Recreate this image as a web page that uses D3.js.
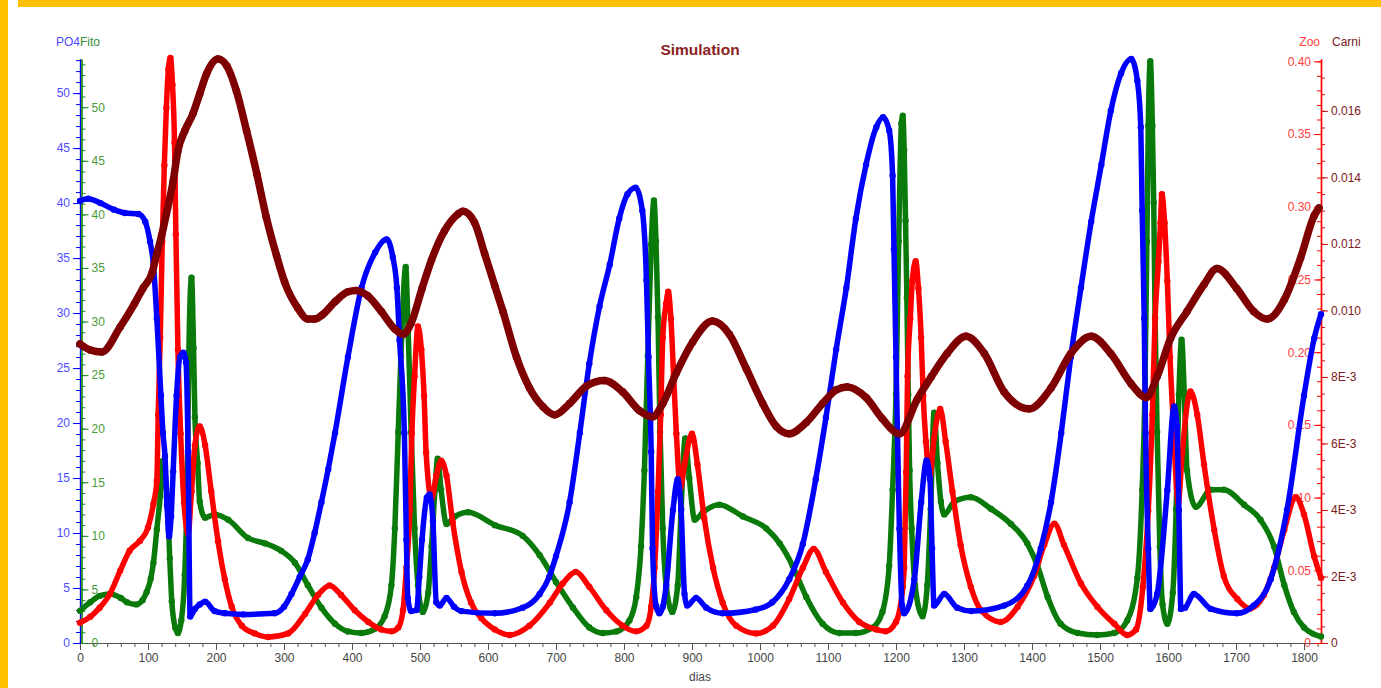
<!DOCTYPE html>
<html><head><meta charset="utf-8">
<script src="https://cdn.jsdelivr.net/npm/d3@7"></script>
<style>
html,body{margin:0;padding:0;background:#fff;overflow:hidden}
svg{display:block}
text{font-family:"Liberation Sans",Arial,sans-serif}
</style></head><body>
<svg id="chart" width="1381" height="688"></svg>
<script>
// ---------- data (day, value) ----------
const po4 = [[0,40.2],[12,40.4],[30,40.0],[50,39.4],[66,39.1],[86,39.0],[96,38.3],[103,36.5],[108,34.4],[113,29.5],[119,22.5],[122,19.1],[125,17.0],[128,12.5],[131,9.7],[134,11.5],[137,15.6],[142,22.5],[147,26.0],[152,26.4],[156,25.5],[159,17.4],[162,2.4],[169,3.1],[176,3.5],[184,3.75],[198,2.9],[213,2.7],[240,2.6],[286,2.7],[300,3.3],[311,4.45],[323,6.0],[335,7.6],[345,10.0],[355,12.8],[365,15.8],[375,19.1],[394,26.0],[414,32.3],[434,35.5],[451,36.7],[460,35.1],[466,32.3],[470,27.5],[477,19.1],[480,9.4],[482,4.1],[487,2.9],[495,3.0],[499,6.0],[503,9.4],[510,13.2],[514,13.5],[519,11.1],[524,3.7],[529,3.4],[539,4.1],[550,3.3],[561,2.9],[610,2.7],[651,3.2],[676,4.45],[690,6.0],[700,7.9],[720,12.8],[735,19.1],[749,25.4],[764,30.6],[779,34.4],[793,38.6],[805,40.8],[817,41.4],[827,39.3],[833,33.0],[836,26.0],[840,17.4],[842,8.6],[847,3.4],[852,2.7],[857,3.3],[862,5.2],[872,12.1],[879,14.9],[884,12.1],[889,4.45],[893,3.4],[906,4.1],[921,3.2],[945,2.7],[994,3.05],[1018,3.7],[1043,5.8],[1063,9.0],[1082,14.9],[1097,20.5],[1112,26.7],[1127,32.3],[1141,38.6],[1156,43.5],[1171,46.9],[1181,47.8],[1190,46.6],[1195,42.5],[1197,35.8],[1200,26.0],[1205,10.4],[1209,3.4],[1212,2.7],[1227,5.8],[1237,12.8],[1245,16.6],[1250,14.9],[1253,8.6],[1256,3.4],[1271,4.45],[1290,3.2],[1311,2.9],[1359,3.4],[1393,5.2],[1413,8.6],[1428,12.8],[1443,19.1],[1457,26.0],[1472,32.3],[1487,38.3],[1502,43.5],[1516,48.4],[1531,51.8],[1546,53.1],[1555,51.1],[1560,46.9],[1562,39.3],[1565,29.5],[1567,19.1],[1571,8.6],[1574,3.1],[1584,4.45],[1599,13.9],[1609,21.5],[1613,19.8],[1616,12.1],[1619,3.1],[1625,3.2],[1638,4.45],[1663,3.1],[1701,2.7],[1726,3.4],[1751,5.8],[1775,12.1],[1800,22.5],[1815,27.7],[1825,29.9]];

const fito = [[0,3.0],[15,3.8],[29,4.4],[44,4.57],[60,4.2],[69,3.8],[83,3.6],[92,4.0],[98,4.75],[104,6.0],[108,7.5],[113,10.6],[118,13.7],[122,17.0],[125,16.0],[129,12.5],[132,7.9],[135,3.9],[140,1.45],[144,0.93],[149,2.1],[154,6.4],[158,16.1],[160,26.8],[164,34.1],[167,27.5],[169,21.1],[173,16.8],[176,13.2],[184,11.7],[198,12.0],[218,11.5],[247,9.8],[272,9.3],[296,8.6],[316,7.5],[335,5.4],[355,3.3],[375,1.8],[394,1.08],[414,0.93],[433,1.3],[448,2.5],[458,5.4],[463,10.7],[468,19.7],[472,26.8],[479,35.1],[482,30.4],[487,19.7],[492,10.7],[497,5.4],[504,2.9],[512,4.7],[517,9.0],[522,14.3],[526,17.2],[531,14.3],[539,11.1],[551,11.8],[571,12.2],[610,11.0],[651,10.0],[676,8.2],[700,5.7],[725,3.3],[749,1.45],[769,0.93],[789,1.08],[808,2.1],[818,4.3],[825,9.0],[830,16.1],[835,26.8],[840,37.2],[844,41.3],[847,37.5],[850,30.4],[853,19.7],[857,10.7],[862,5.4],[871,2.9],[879,5.4],[884,12.5],[890,19.1],[896,15.4],[904,11.5],[916,12.2],[940,12.9],[975,11.8],[1009,10.7],[1029,9.3],[1048,7.2],[1068,4.3],[1092,1.8],[1117,0.93],[1141,0.93],[1166,1.45],[1180,2.9],[1190,7.2],[1195,14.3],[1200,23.2],[1204,37.5],[1208,48.5],[1210,49.2],[1212,46.0],[1214,39.4],[1216,32.2],[1218,23.2],[1220,16.1],[1223,10.7],[1228,5.4],[1239,2.5],[1246,5.4],[1251,12.5],[1256,21.5],[1261,16.8],[1266,13.2],[1271,12.0],[1286,13.2],[1310,13.6],[1340,12.5],[1369,11.1],[1393,9.3],[1408,7.2],[1423,4.3],[1442,1.8],[1467,0.93],[1496,0.75],[1521,0.93],[1540,2.1],[1555,6.1],[1562,14.3],[1566,23.2],[1569,37.5],[1571,48.3],[1574,54.3],[1577,48.3],[1579,41.1],[1581,30.4],[1584,19.7],[1588,9.0],[1592,3.6],[1599,1.8],[1607,4.7],[1612,12.5],[1616,23.2],[1620,28.3],[1624,23.2],[1628,16.1],[1641,12.7],[1663,14.3],[1682,14.3],[1712,12.9],[1736,11.5],[1756,9.0],[1771,5.4],[1785,2.9],[1800,1.45],[1825,0.6]];

const zoo = [[0,0.014],[15,0.018],[29,0.0243],[44,0.0337],[59,0.0496],[73,0.0634],[88,0.0702],[100,0.0794],[108,0.0957],[113,0.1116],[115,0.157],[118,0.210],[121,0.276],[124,0.3285],[127,0.368],[130,0.3946],[133,0.4024],[136,0.384],[139,0.344],[141,0.281],[144,0.2018],[148,0.144],[153,0.0964],[159,0.0753],[164,0.1043],[169,0.136],[176,0.149],[184,0.136],[193,0.1043],[203,0.070],[213,0.0436],[223,0.0251],[238,0.0119],[257,0.0066],[277,0.0041],[306,0.0066],[331,0.020],[350,0.033],[367,0.0396],[384,0.033],[404,0.0225],[424,0.0145],[443,0.0093],[458,0.008],[468,0.0106],[475,0.0225],[480,0.0517],[485,0.091],[488,0.144],[492,0.1834],[497,0.2176],[502,0.2018],[506,0.170],[509,0.131],[517,0.0992],[524,0.115],[531,0.1253],[539,0.115],[548,0.0833],[561,0.0489],[575,0.0278],[590,0.0172],[610,0.0093],[632,0.0055],[661,0.0119],[691,0.0278],[710,0.0409],[729,0.0489],[749,0.0386],[774,0.0225],[798,0.0119],[818,0.008],[833,0.0119],[840,0.025],[845,0.0517],[850,0.104],[854,0.157],[857,0.210],[862,0.2335],[865,0.2415],[869,0.223],[873,0.1834],[877,0.144],[883,0.1069],[889,0.1227],[900,0.144],[908,0.1227],[918,0.0858],[931,0.0517],[945,0.0278],[965,0.0119],[994,0.0066],[1019,0.0119],[1043,0.0303],[1063,0.0517],[1079,0.0647],[1097,0.0489],[1122,0.0278],[1146,0.0145],[1171,0.0093],[1185,0.008],[1200,0.0145],[1210,0.0386],[1212,0.0517],[1215,0.1174],[1217,0.1834],[1221,0.223],[1224,0.249],[1229,0.2626],[1233,0.244],[1237,0.210],[1240,0.170],[1244,0.1386],[1250,0.115],[1256,0.141],[1265,0.161],[1273,0.1386],[1283,0.1043],[1295,0.0675],[1310,0.0386],[1325,0.0225],[1354,0.0145],[1379,0.025],[1403,0.0461],[1418,0.0675],[1433,0.082],[1447,0.0675],[1472,0.0409],[1496,0.025],[1521,0.0132],[1540,0.0055],[1553,0.0093],[1563,0.0386],[1571,0.091],[1577,0.157],[1581,0.223],[1586,0.2626],[1589,0.289],[1591,0.3087],[1595,0.289],[1599,0.249],[1603,0.1966],[1608,0.149],[1615,0.0964],[1621,0.131],[1633,0.1729],[1643,0.157],[1653,0.1227],[1668,0.0778],[1682,0.0461],[1702,0.0303],[1721,0.0238],[1741,0.033],[1756,0.0517],[1771,0.0778],[1788,0.1003],[1800,0.0884],[1815,0.0594],[1825,0.0448]];

const carni = [[0,0.00899],[15,0.00881],[32,0.00875],[59,0.0095],[80,0.0102],[93,0.01068],[106,0.01113],[113,0.0117],[120,0.01225],[127,0.0129],[137,0.01389],[144,0.0148],[154,0.0154],[166,0.01591],[176,0.01651],[186,0.01711],[203,0.01756],[216,0.01735],[230,0.0166],[245,0.0154],[260,0.01411],[274,0.0128],[289,0.01165],[301,0.01085],[320,0.01008],[335,0.00974],[345,0.00974],[356,0.00986],[375,0.01026],[394,0.01056],[406,0.0106],[423,0.01044],[443,0.00997],[463,0.00944],[475,0.00928],[487,0.00962],[503,0.01066],[517,0.01152],[536,0.01239],[556,0.0129],[563,0.01298],[580,0.01265],[595,0.01171],[610,0.01074],[622,0.00997],[642,0.00859],[661,0.00767],[681,0.0071],[698,0.00686],[720,0.0072],[745,0.00773],[771,0.00789],[798,0.00755],[823,0.00698],[842,0.0068],[857,0.0072],[877,0.00812],[901,0.00905],[930,0.00968],[955,0.00928],[980,0.00824],[1004,0.0072],[1024,0.00651],[1043,0.00629],[1068,0.00663],[1092,0.0072],[1112,0.00761],[1128,0.0077],[1156,0.00738],[1180,0.00674],[1205,0.00629],[1231,0.00732],[1252,0.00801],[1275,0.0087],[1303,0.00922],[1330,0.0087],[1359,0.00755],[1396,0.00704],[1428,0.00767],[1457,0.0087],[1487,0.00922],[1516,0.0087],[1546,0.00779],[1568,0.00738],[1584,0.00801],[1604,0.00917],[1628,0.00997],[1653,0.01078],[1672,0.01126],[1701,0.01066],[1726,0.00997],[1746,0.00974],[1771,0.01032],[1795,0.01158],[1815,0.01285],[1822,0.01308]];

// ---------- tick labels ----------
const dayTicks = [0,100,200,300,400,500,600,700,800,900,1000,1100,1200,1300,1400,1500,1600,1700,1800];
const po4Ticks = [0,5,10,15,20,25,30,35,40,45,50];
const fitoTicks = [0,5,10,15,20,25,30,35,40,45,50];
const zooTicks = [0,0.05,0.10,0.15,0.20,0.25,0.30,0.35,0.40];
const zooLabels = ["0","0.05","0.10","0.15","0.20","0.25","0.30","0.35","0.40"];
const carniTicks = [0,0.002,0.004,0.006,0.008,0.010,0.012,0.014,0.016];
const carniLabels = ["0","2E-3","4E-3","6E-3","8E-3","0.010","0.012","0.014","0.016"];

// ---------- layout ----------
const svg = d3.select("#chart");
const X0 = 80, X1 = 1321, Y0 = 643, Y1 = 59;

svg.append("rect").attr("x",0).attr("y",0).attr("width",8).attr("height",688).attr("fill","#FFC000");
svg.append("rect").attr("x",18).attr("y",0).attr("width",1363).attr("height",7).attr("fill","#FFC000");

const x = d3.scaleLinear().domain([0,1825]).range([X0,X1]);
const yPO4 = d3.scaleLinear().domain([0,53.1]).range([Y0,Y1]);
const yFito = d3.scaleLinear().domain([0,54.5]).range([Y0,Y1]);
const yZoo = d3.scaleLinear().domain([0,0.4016]).range([Y0,Y1]);
const yCarni = d3.scaleLinear().domain([0,0.01756]).range([Y0,Y1]);

function styleAxis(g, lineColor, textColor){
  g.selectAll("path.domain").attr("stroke", lineColor).attr("stroke-width",1.2);
  g.selectAll(".tick line").attr("stroke", lineColor);
  g.selectAll(".tick text").attr("fill", textColor).attr("font-size", 12)
   .attr("font-family", '"Liberation Sans",Arial,sans-serif');
}

// X axis
const gxMinor = svg.append("g").attr("transform",`translate(0,${Y0})`)
  .call(d3.axisBottom(x).tickValues(d3.range(0,1821,20)).tickSize(4).tickSizeOuter(0).tickFormat(""));
styleAxis(gxMinor,"#555","#444");
const gx = svg.append("g").attr("transform",`translate(0,${Y0})`)
  .call(d3.axisBottom(x).tickValues(dayTicks).tickSize(7).tickSizeOuter(0).tickPadding(3).tickFormat(d3.format("d")));
styleAxis(gx,"#555","#444");

// Left PO4 axis
const gpMinor = svg.append("g").attr("transform",`translate(${X0},0)`)
  .call(d3.axisLeft(yPO4).tickValues(d3.range(0,54,1)).tickSize(4).tickSizeOuter(0).tickFormat(""));
styleAxis(gpMinor,"#0000ff","#4d4dff");
const gp = svg.append("g").attr("transform",`translate(${X0},0)`)
  .call(d3.axisLeft(yPO4).tickValues(po4Ticks).tickSize(7).tickSizeOuter(0).tickPadding(3));
styleAxis(gp,"#0000ff","#4d4dff");

// Fito axis
const FX = X0 + 1.5;
const gfMinor = svg.append("g").attr("transform",`translate(${FX},0)`)
  .call(d3.axisRight(yFito).tickValues(d3.range(0,55,1)).tickSize(4).tickSizeOuter(0).tickFormat(""));
styleAxis(gfMinor,"#1a8a1a","#4a9a3a");
const gf = svg.append("g").attr("transform",`translate(${FX},0)`)
  .call(d3.axisRight(yFito).tickValues(fitoTicks).tickSize(7).tickSizeOuter(0).tickPadding(3));
styleAxis(gf,"#1a8a1a","#4a9a3a");

// Zoo axis
const gzMinor = svg.append("g").attr("transform",`translate(${X1},0)`)
  .call(d3.axisLeft(yZoo).tickValues(d3.range(0,0.4005,0.01)).tickSize(4).tickSizeOuter(0).tickFormat(""));
styleAxis(gzMinor,"#ff0000","#ff4040");
const gz = svg.append("g").attr("transform",`translate(${X1},0)`)
  .call(d3.axisLeft(yZoo).tickValues(zooTicks).tickSize(7).tickSizeOuter(0).tickPadding(3)
    .tickFormat((d,i)=>zooLabels[i]));
styleAxis(gz,"#ff0000","#ff4040");

// Carni axis
const gcMinor = svg.append("g").attr("transform",`translate(${X1},0)`)
  .call(d3.axisRight(yCarni).tickValues(d3.range(0,0.0175,0.0005)).tickSize(4).tickSizeOuter(0).tickFormat(""));
styleAxis(gcMinor,"#cc1010","#7a2020");
const gc = svg.append("g").attr("transform",`translate(${X1},0)`)
  .call(d3.axisRight(yCarni).tickValues(carniTicks).tickSize(7).tickSizeOuter(0).tickPadding(3)
    .tickFormat((d,i)=>carniLabels[i]));
styleAxis(gc,"#cc1010","#7a2020");
gc.select("path.domain").attr("stroke","#ff0000");

// titles
const tfont = '"Liberation Sans",Arial,sans-serif';
svg.append("text").attr("x",700).attr("y",55).attr("text-anchor","middle")
  .attr("font-size",15.5).attr("font-weight","bold").attr("fill","#8b2323").attr("font-family",tfont).text("Simulation");
svg.append("text").attr("x",80).attr("y",46).attr("text-anchor","end").attr("font-size",12).attr("fill","#4d4dff").attr("font-family",tfont).text("PO4");
svg.append("text").attr("x",80).attr("y",46).attr("text-anchor","start").attr("font-size",12).attr("fill","#3a8a3a").attr("font-family",tfont).text("Fito");
svg.append("text").attr("x",1320).attr("y",46).attr("text-anchor","end").attr("font-size",12).attr("fill","#ff4040").attr("font-family",tfont).text("Zoo");
svg.append("text").attr("x",1332).attr("y",46).attr("text-anchor","start").attr("font-size",12).attr("fill","#7a2020").attr("font-family",tfont).text("Carni");
svg.append("text").attr("x",700).attr("y",681).attr("text-anchor","middle").attr("font-size",12).attr("fill","#444").attr("font-family",tfont).text("dias");

// ---------- series ----------
function drawSeries(data, yScale, color, width, r){
  const line = d3.line().x(d=>x(d[0])).y(d=>yScale(d[1])).curve(d3.curveMonotoneX);
  const g = svg.append("g");
  g.append("path").datum(data).attr("d",line).attr("fill","none").attr("stroke",color)
    .attr("stroke-width",width).attr("stroke-linejoin","round").attr("stroke-linecap","round");
  g.selectAll("circle").data(data).enter().append("circle")
    .attr("cx",d=>x(d[0])).attr("cy",d=>yScale(d[1])).attr("r",r).attr("fill",color);
}
drawSeries(fito, yFito, "#0a7a0a", 5.5, 3.2);
drawSeries(zoo, yZoo, "#ff0000", 5.5, 3.2);
drawSeries(po4, yPO4, "#0000ff", 5.5, 3.2);
drawSeries(carni, yCarni, "#7f0000", 7.5, 3.8);
</script>
</body></html>
